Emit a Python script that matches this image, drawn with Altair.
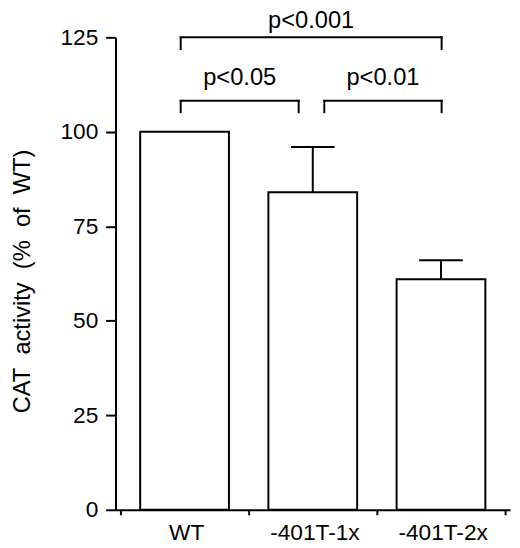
import json
import pandas as pd
import altair as alt

groups = ['WT', '-401T-1x', '-401T-2x']
activity = [100, 84, 61]
sem = [0, 12, 5]

# significance brackets, in axis units (x: 0-3 across the groups)
bracket_left = [0.47, 0.47, 1.59]
bracket_right = [2.505, 1.39, 2.505]
bracket_top = [125, 108.2, 108.2]
bracket_foot = [121.9, 105.2, 105.2]
bracket_text = ['p<0.001', 'p<0.05', 'p<0.01']
text_height = [127.4, 112.3, 112.3]

font = 'Liberation Sans'

bars = pd.DataFrame({'group': groups, 'activity': activity, 'err': sem})
bars['pos'] = [i + 0.5 for i in range(len(groups))]
bars['upper'] = bars['activity'] + bars['err']
bars['cap_l'] = bars['pos'] - 0.17
bars['cap_r'] = bars['pos'] + 0.17
err = bars[bars['err'] > 0]

brk = pd.DataFrame({'left': bracket_left, 'right': bracket_right,
                    'top': bracket_top, 'foot': bracket_foot,
                    'label': bracket_text, 'ty': text_height})
brk['mid'] = (brk['left'] + brk['right']) / 2
feet = brk.melt(id_vars=['top', 'foot'], value_vars=['left', 'right'], value_name='pos')

label_expr = 'datum.value < %d ? %s[datum.value] : ""' % (len(groups), json.dumps(groups))

x_scale = alt.Scale(domain=[0, 3], nice=False, zero=False)
y_scale = alt.Scale(domain=[0, 125], nice=False)

x_axis = alt.Axis(values=[0, 1, 2, 3], title=None, labelExpr=label_expr,
                  labelOffset=400 / 3 / 2, labelFlush=False, labelOverlap=False,
                  labelBound=False, tickSize=5, tickWidth=2, domainWidth=2,
                  domainColor='black', tickColor='black', labelColor='black',
                  labelFont=font, labelFontSize=23, labelPadding=7, grid=False)
y_axis = alt.Axis(values=[0, 25, 50, 75, 100, 125],
                  title='CAT\u00a0 activity\u00a0 (%\u00a0 of\u00a0 WT)',
                  titleFont=font, titleFontSize=24, titleFontWeight='normal',
                  titleColor='black', titleBaseline='alphabetic', titleX=-87, titleY=247,
                  tickSize=10, tickWidth=2, domainWidth=2, domainColor='black',
                  tickColor='black', labelColor='black', labelFont=font,
                  labelFontSize=23, labelPadding=8, grid=False)

bar_layer = alt.Chart(bars).mark_bar(orient='vertical', size=90, fill='white',
                                     stroke='black', strokeWidth=2).encode(
    x=alt.X('pos:Q', scale=x_scale, axis=x_axis),
    y=alt.Y('activity:Q', scale=y_scale, axis=y_axis)
)

err_line = alt.Chart(err).mark_rule(color='black', strokeWidth=2).encode(
    x='pos:Q', y='activity:Q', y2='upper:Q'
)
err_cap = alt.Chart(err).mark_rule(color='black', strokeWidth=2).encode(
    x='cap_l:Q', x2='cap_r:Q', y='upper:Q'
)

bracket_h = alt.Chart(brk).mark_rule(color='black', strokeWidth=2, strokeCap='square').encode(
    x='left:Q', x2='right:Q', y='top:Q'
)
bracket_v = alt.Chart(feet).mark_rule(color='black', strokeWidth=2, strokeCap='square').encode(
    x='pos:Q', y='foot:Q', y2='top:Q'
)
bracket_lbl = alt.Chart(brk).mark_text(font=font, fontSize=24, color='black',
                                       baseline='alphabetic', align='center').encode(
    x='mid:Q', y='ty:Q', text='label:N'
)

chart = alt.layer(bar_layer, err_line, err_cap, bracket_h, bracket_v, bracket_lbl).properties(
    width=400, height=479,
    autosize=alt.AutoSizeParams(type='none'),
    padding={'left': 109, 'top': 26, 'right': 2, 'bottom': 35},
    background='white'
).configure_view(stroke=None)

chart.save("out.html", embed_options={"renderer": "svg", "actions": False})
